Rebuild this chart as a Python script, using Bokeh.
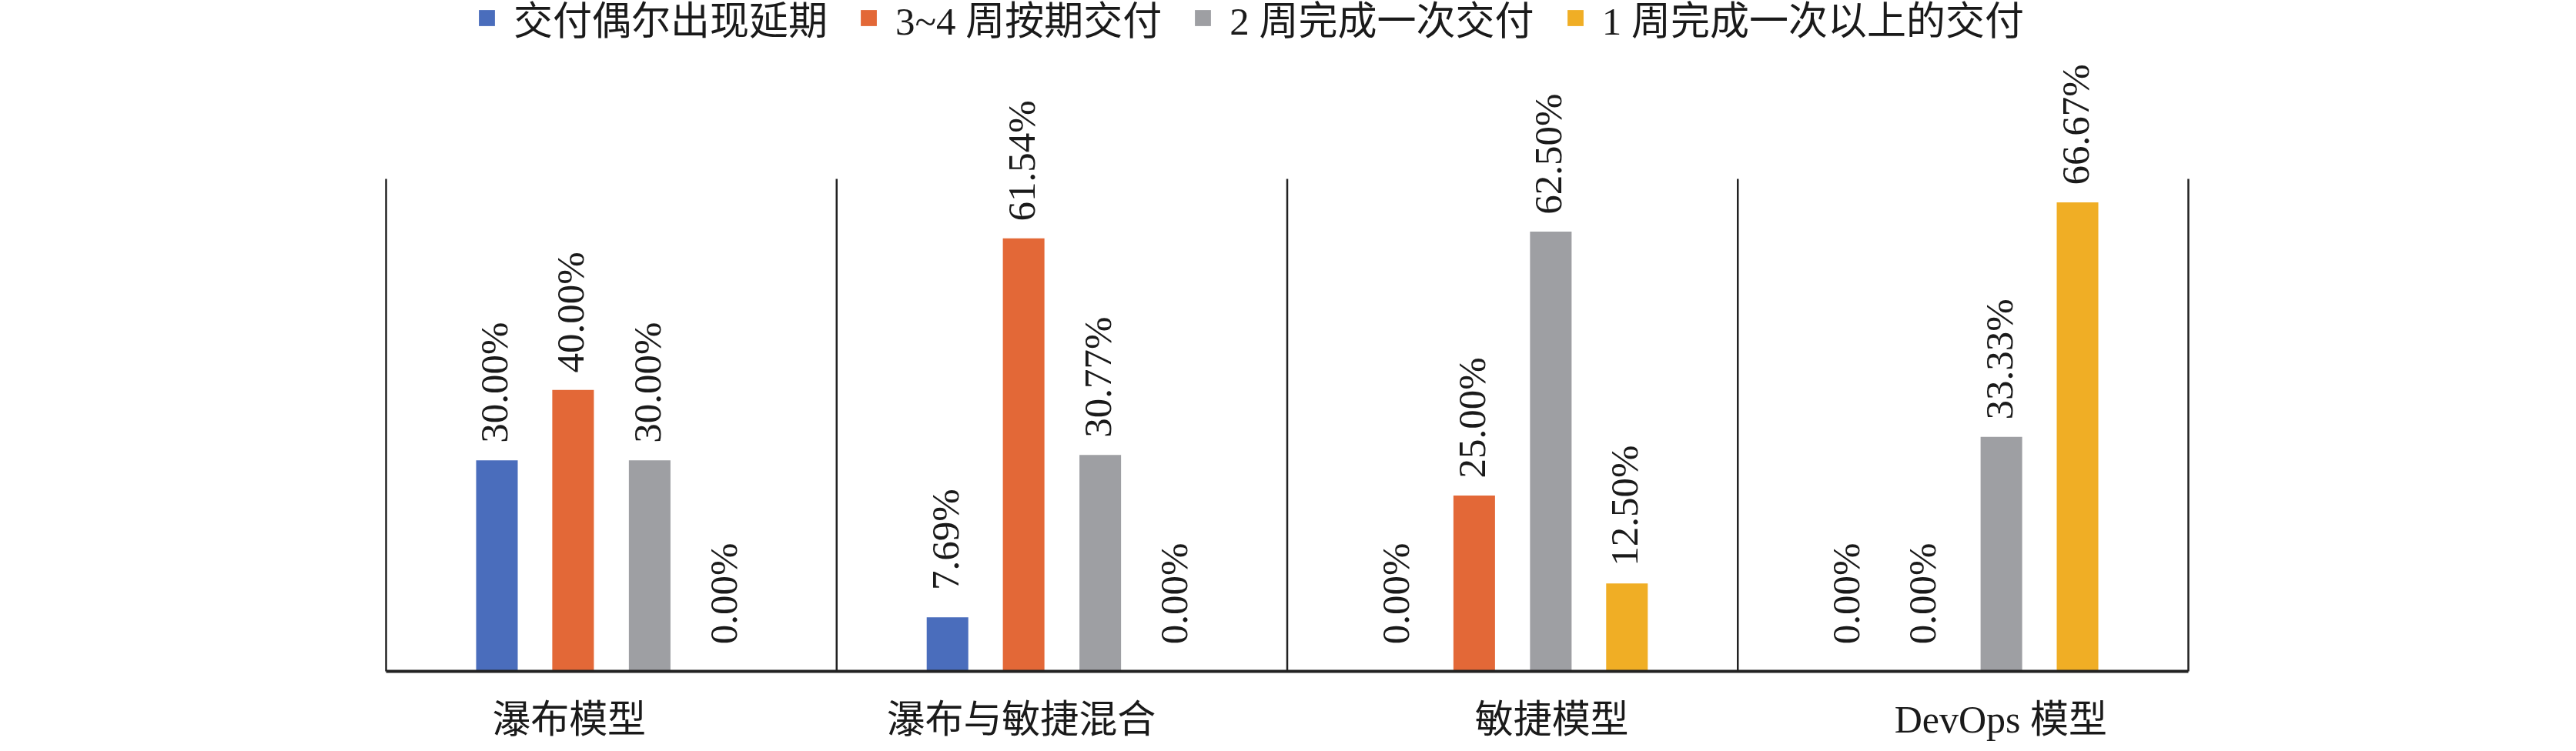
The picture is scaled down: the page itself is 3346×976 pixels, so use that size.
import numpy as np
from bokeh.plotting import figure
from bokeh.models import Range1d, ColumnDataSource, Legend, LegendItem
from bokeh.core.properties import value
from bokeh.embed import file_html
from bokeh.resources import INLINE

# ---- data ----
categories = ["瀑布模型", "瀑布与敏捷混合", "敏捷模型", "DevOps 模型"]
series_names = ["交付偶尔出现延期", "3~4 周按期交付", "2 周完成一次交付", "1 周完成一次以上的交付"]
delay_values = [30.00, 7.69, 0.00, 0.00]
weeks34_values = [40.00, 61.54, 25.00, 0.00]
weeks2_values = [30.00, 30.77, 62.50, 33.33]
week1_values = [0.00, 0.00, 12.50, 66.67]
y_max = 70

# ---- style ----
colors = ["#4A6DBC", "#E36837", "#9E9FA3", "#F0AE25"]
bar_offsets = [-0.254, -0.085, 0.085, 0.254]
bar_width = 0.0923
cat_label_shift = [-55, -53, 51, 49]
SERIF = "Liberation Serif, Noto Sans CJK SC"
TXT = "#1A1A1A"

W, H = 3330, 968
X0, X4 = 501, 2842
ppu = (X4 - X0) / len(categories)
Y0, YT = 872, 232
ppy = (Y0 - YT) / y_max

p = figure(width=W, height=H, output_backend="svg", toolbar_location=None,
           x_range=Range1d(-X0 / ppu, (W - X0) / ppu),
           y_range=Range1d(-(H - Y0) / ppy, y_max + YT / ppy),
           min_border=0, x_axis_location=None, y_axis_location=None)
p.grid.visible = False
p.outline_line_color = None
p.background_fill_color = "white"
p.border_fill_color = "white"

n = len(categories)
bounds = np.arange(n + 1)
p.segment(x0=bounds, y0=np.zeros(n + 1), x1=bounds, y1=np.full(n + 1, y_max),
          line_color="#222222", line_width=2.5)

centers = np.arange(n) + 0.5
series = [delay_values, weeks34_values, weeks2_values, week1_values]
items = []
for j, (name, vals, col) in enumerate(zip(series_names, series, colors)):
    src = ColumnDataSource(dict(x=centers + bar_offsets[j], top=vals,
                                label=[f"{v:.2f}%" for v in vals]))
    r = p.vbar(x="x", top="top", bottom=0, width=bar_width, source=src,
               fill_color=col, line_color=None)
    p.text(x="x", y="top", text="label", source=src, angle=np.pi / 2,
           text_align="center", text_baseline="middle", y_offset=-101, x_offset=-3,
           text_font=value(SERIF), text_font_size="51px", text_color=TXT)
    items.append(LegendItem(label=name, renderers=[r]))

# baseline
p.segment(x0=[0], y0=[0], x1=[n], y1=[0], line_color="#222222", line_width=4)

# category labels
csrc = ColumnDataSource(dict(x=centers, y=np.zeros(n), text=categories, dx=cat_label_shift))
p.text(x="x", y="y", text="text", x_offset="dx", y_offset=62, source=csrc,
       text_align="center", text_baseline="middle",
       text_font=value(SERIF), text_font_size="50px", text_color=TXT)

legend = Legend(items=items, orientation="horizontal", location=(619, H - 60),
                glyph_width=26, glyph_height=26, label_standoff=22, spacing=40,
                padding=0, margin=0, border_line_color=None, background_fill_alpha=0,
                label_text_font=SERIF, label_text_font_size="51px", label_text_color=TXT)
p.add_layout(legend, "center")

open("out.html", "w").write(file_html(p, INLINE))
